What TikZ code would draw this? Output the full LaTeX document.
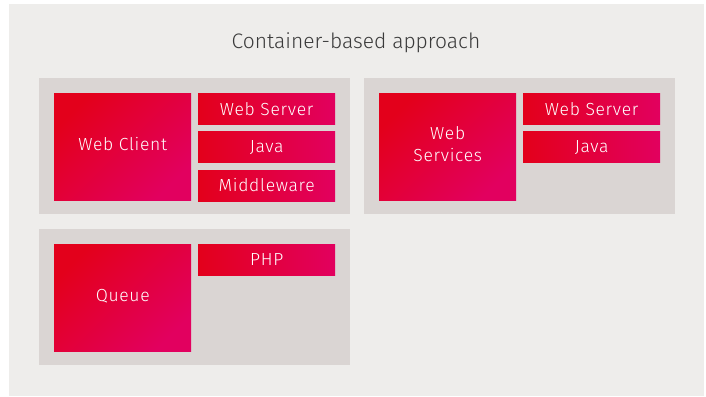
\documentclass[tikz,border=0pt]{standalone}
\usepackage{fontspec}
\setmainfont{Fira Sans}[UprightFont=* Light]
\newfontfamily\boxfont{Fira Sans}[UprightFont=* Light, LetterSpace=4]
\usetikzlibrary{positioning}

\definecolor{bgGray}{HTML}{EEEDEB}
\definecolor{panelGray}{HTML}{DAD5D3}
\definecolor{boxRed}{HTML}{E3001B}
\definecolor{boxPink}{HTML}{E2005F}
\definecolor{titleGray}{HTML}{3A3A3A}

\tikzset{
  panel/.style={anchor=north west, fill=panelGray, inner sep=0,
    minimum width=311, minimum height=136},
  bigbox/.style={anchor=north west, inner sep=0, align=center,
    minimum width=137, minimum height=107, text depth=5pt,
    top color=boxRed, bottom color=boxPink, shading angle=45,
    text=white, font=\boxfont\fontsize{17.5}{22}\selectfont},
  smallbox/.style={inner sep=0, minimum width=137, minimum height=31,
    left color=boxRed, right color=boxPink,
    text=white, font=\boxfont\fontsize{17.5}{19}\selectfont},
}

\begin{document}
\begin{tikzpicture}[x=1pt, y=-1pt]
   \useasboundingbox (0,0) rectangle (706,396);
   \fill[white] (0,0) rectangle (706,396);
   \fill[bgGray] (9,4) rectangle (704,396);
   %
   \node[text=titleGray, font=\fontsize{21}{24}\selectfont] (title) at (356,43) {Container-based approach};
   %
   \node[panel] (pnlClient) at (39,78) {};
   \node[panel] (pnlServices) at (364,78) {};
   \node[panel] (pnlQueue) at (39,229) {};
   %
   \node[bigbox] (client) at (54,93) {Web Client};
   \node[smallbox, anchor=north west] (srvA) at (198,93) {Web Server};
   \node[smallbox, below=7pt of srvA] (javaA) {Java};
   \node[smallbox, below=7pt of javaA] (mware) {Middleware};
   %
   \node[bigbox] (services) at (379,93) {Web\\Services};
   \node[smallbox, anchor=north west] (srvB) at (523,93) {Web Server};
   \node[smallbox, below=7pt of srvB] (javaB) {Java};
   %
   \node[bigbox] (queue) at (54,244) {Queue};
   \node[smallbox, anchor=north west] (php) at (198,244) {PHP};
   %
\end{tikzpicture}
\end{document}
